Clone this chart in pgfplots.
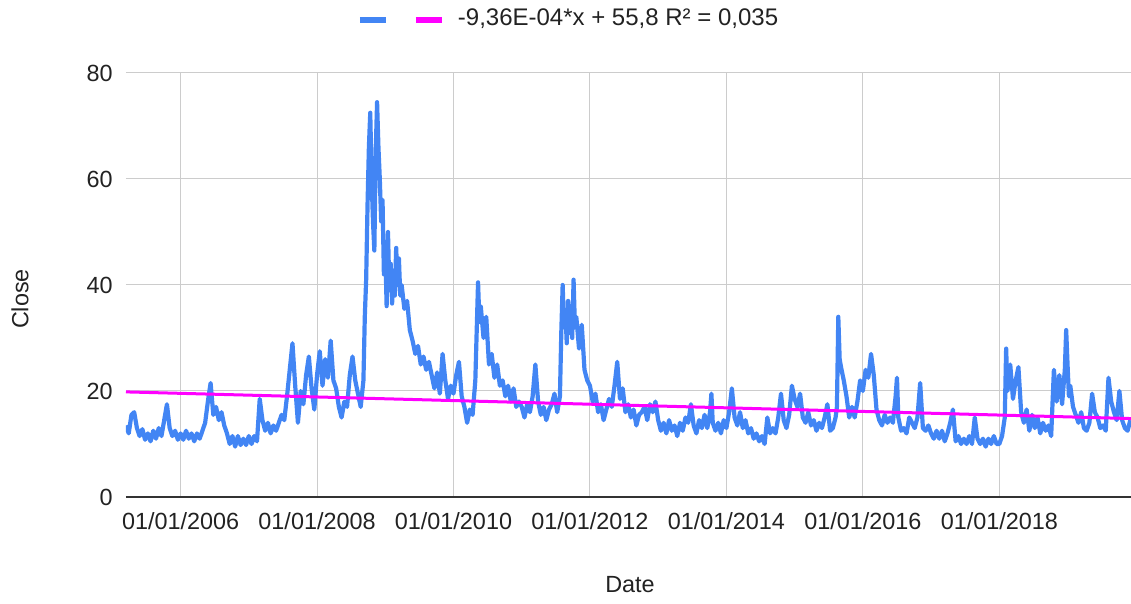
\documentclass[border=0pt]{standalone}
\usepackage{fontspec}
\setmainfont{Liberation Sans}
\usepackage{pgfplots}
\usepackage{pgfplotstable}
\pgfplotsset{compat=1.18}
\definecolor{sheetblue}{HTML}{4285F4}
\definecolor{trendmag}{HTML}{FF00FF}
\definecolor{gridgray}{HTML}{CCCCCC}
\definecolor{axisgray}{HTML}{333333}
\definecolor{textgray}{HTML}{222222}

\pgfplotstableread{
x y
2005.20 13.5
2005.24 12.0
2005.28 15.5
2005.32 16.0
2005.36 13.0
2005.40 11.5
2005.44 12.8
2005.48 10.8
2005.52 12.0
2005.56 10.5
2005.60 12.5
2005.64 11.0
2005.68 13.0
2005.72 11.5
2005.76 14.5
2005.80 17.5
2005.84 13.0
2005.88 11.5
2005.92 12.5
2005.96 10.8
2006.00 12.0
2006.04 10.8
2006.08 12.5
2006.12 11.0
2006.16 12.0
2006.20 10.5
2006.24 12.0
2006.28 11.0
2006.32 12.5
2006.36 14.0
2006.40 18.0
2006.44 21.5
2006.48 15.5
2006.52 17.0
2006.56 14.5
2006.60 16.0
2006.64 13.5
2006.68 12.0
2006.72 10.0
2006.76 11.5
2006.80 9.5
2006.84 11.5
2006.88 9.8
2006.92 11.0
2006.96 9.8
2007.00 11.5
2007.04 10.0
2007.08 11.5
2007.12 10.5
2007.16 18.5
2007.20 14.5
2007.24 12.5
2007.28 14.0
2007.32 12.0
2007.36 13.5
2007.40 12.5
2007.44 14.0
2007.48 15.5
2007.52 14.5
2007.56 19.0
2007.60 24.0
2007.64 29.0
2007.68 21.0
2007.72 14.0
2007.76 20.0
2007.80 17.5
2007.84 23.0
2007.88 26.5
2007.92 20.5
2007.96 16.5
2008.00 23.0
2008.04 27.5
2008.08 21.0
2008.12 26.0
2008.16 22.5
2008.20 29.5
2008.24 22.0
2008.28 20.5
2008.32 17.0
2008.36 15.0
2008.40 18.0
2008.44 17.0
2008.48 23.0
2008.52 26.5
2008.56 22.0
2008.60 19.5
2008.64 17.0
2008.68 22.0
2008.70 34.0
2008.72 41.0
2008.74 55.0
2008.76 66.0
2008.78 72.5
2008.80 60.0
2008.82 52.0
2008.84 46.5
2008.86 65.0
2008.88 74.5
2008.90 66.0
2008.92 60.0
2008.94 52.0
2008.96 56.0
2008.98 42.0
2009.00 47.0
2009.02 36.0
2009.04 50.0
2009.06 39.0
2009.08 44.0
2009.10 36.5
2009.12 42.0
2009.14 38.0
2009.16 47.0
2009.18 40.0
2009.20 45.0
2009.22 38.0
2009.24 40.0
2009.28 35.5
2009.32 37.0
2009.36 31.5
2009.40 29.5
2009.44 27.0
2009.48 28.5
2009.52 25.0
2009.56 26.5
2009.60 24.0
2009.64 25.5
2009.68 23.0
2009.72 20.5
2009.76 23.5
2009.80 19.5
2009.84 27.0
2009.88 22.0
2009.92 18.5
2009.96 21.0
2010.00 19.5
2010.04 23.0
2010.08 25.5
2010.12 19.0
2010.16 17.0
2010.20 14.0
2010.24 16.5
2010.28 15.5
2010.32 22.0
2010.36 40.5
2010.38 33.0
2010.40 36.0
2010.44 30.0
2010.48 34.0
2010.52 25.0
2010.56 27.0
2010.60 22.5
2010.64 25.0
2010.68 21.0
2010.72 22.0
2010.76 19.0
2010.80 21.0
2010.84 18.0
2010.88 20.5
2010.92 17.0
2010.96 18.0
2011.00 17.0
2011.04 15.0
2011.08 17.5
2011.12 16.0
2011.16 19.0
2011.20 25.0
2011.24 18.0
2011.28 15.5
2011.32 17.0
2011.36 14.5
2011.40 16.5
2011.44 17.5
2011.48 19.5
2011.52 16.0
2011.56 19.0
2011.58 31.0
2011.60 40.0
2011.62 32.0
2011.64 35.0
2011.66 29.0
2011.68 37.0
2011.70 31.0
2011.72 36.0
2011.74 30.0
2011.76 41.0
2011.78 32.0
2011.80 34.0
2011.84 28.0
2011.88 32.5
2011.92 24.0
2011.96 22.0
2012.00 21.0
2012.04 18.0
2012.08 19.5
2012.12 16.0
2012.16 17.5
2012.20 14.5
2012.24 16.5
2012.28 18.5
2012.32 17.0
2012.36 21.0
2012.40 25.5
2012.44 18.5
2012.48 20.5
2012.52 16.0
2012.56 17.5
2012.60 15.0
2012.64 16.5
2012.68 13.5
2012.72 15.5
2012.76 16.0
2012.80 17.0
2012.84 14.5
2012.88 17.5
2012.92 16.0
2012.96 18.0
2013.00 14.5
2013.04 12.5
2013.08 14.0
2013.12 12.0
2013.16 14.5
2013.20 12.5
2013.24 13.5
2013.28 11.5
2013.32 14.0
2013.36 12.5
2013.40 15.0
2013.44 14.0
2013.48 17.5
2013.52 13.5
2013.56 12.0
2013.60 14.5
2013.64 13.0
2013.68 15.5
2013.72 13.0
2013.76 16.0
2013.78 19.5
2013.80 14.0
2013.84 12.5
2013.88 14.0
2013.92 12.0
2013.96 14.5
2014.00 13.0
2014.04 16.0
2014.08 20.5
2014.12 15.0
2014.16 13.5
2014.20 16.0
2014.24 13.0
2014.28 14.5
2014.32 12.0
2014.36 13.0
2014.40 11.0
2014.44 12.0
2014.48 10.5
2014.52 11.5
2014.56 10.0
2014.60 15.0
2014.64 12.0
2014.68 13.0
2014.72 12.0
2014.76 15.0
2014.80 19.5
2014.84 14.5
2014.88 13.0
2014.92 15.5
2014.96 21.0
2015.00 18.5
2015.04 17.0
2015.08 19.5
2015.12 15.0
2015.16 14.0
2015.20 16.0
2015.24 13.5
2015.28 14.5
2015.32 12.5
2015.36 14.0
2015.40 13.0
2015.44 15.0
2015.48 17.5
2015.52 12.5
2015.56 13.0
2015.60 15.0
2015.62 17.0
2015.64 34.0
2015.66 26.0
2015.68 24.5
2015.72 22.0
2015.76 19.0
2015.80 15.0
2015.84 17.0
2015.88 15.0
2015.92 18.0
2015.96 22.0
2016.00 20.0
2016.04 24.0
2016.08 22.5
2016.12 27.0
2016.16 23.0
2016.20 16.5
2016.24 14.5
2016.28 13.5
2016.32 15.5
2016.36 14.0
2016.40 15.0
2016.44 14.0
2016.48 19.0
2016.50 22.5
2016.52 15.0
2016.56 12.5
2016.60 13.0
2016.64 12.0
2016.68 15.0
2016.72 14.0
2016.76 13.0
2016.80 15.0
2016.84 21.5
2016.88 13.0
2016.92 12.5
2016.96 13.5
2017.00 12.0
2017.04 11.0
2017.08 12.5
2017.12 11.0
2017.16 12.5
2017.20 10.5
2017.24 12.0
2017.28 14.0
2017.32 16.5
2017.36 10.5
2017.40 11.5
2017.44 10.0
2017.48 11.0
2017.52 10.0
2017.56 11.5
2017.60 10.0
2017.64 15.0
2017.68 11.0
2017.72 10.0
2017.76 11.0
2017.80 9.5
2017.84 11.0
2017.88 10.0
2017.92 11.5
2017.96 10.0
2018.00 10.0
2018.04 11.5
2018.08 15.0
2018.10 28.0
2018.12 20.0
2018.16 25.0
2018.20 18.5
2018.24 22.0
2018.28 24.5
2018.32 16.0
2018.36 14.0
2018.40 16.5
2018.44 12.5
2018.48 15.5
2018.52 13.0
2018.56 15.0
2018.60 12.0
2018.64 14.0
2018.68 12.5
2018.72 13.5
2018.76 11.5
2018.80 24.0
2018.84 18.0
2018.88 23.0
2018.92 17.5
2018.96 24.0
2018.98 31.5
2019.00 25.0
2019.02 19.0
2019.04 21.0
2019.08 17.0
2019.12 15.5
2019.16 14.0
2019.20 16.0
2019.24 13.0
2019.28 12.5
2019.32 14.0
2019.36 19.5
2019.40 16.0
2019.44 15.0
2019.48 13.0
2019.52 13.5
2019.56 12.5
2019.60 22.5
2019.64 18.0
2019.68 16.0
2019.72 14.5
2019.76 20.0
2019.80 14.5
2019.84 13.0
2019.88 12.5
2019.92 14.5
}\closedata

\begin{document}
\begin{tikzpicture}
\useasboundingbox (-63pt,-53.5pt) rectangle (502.5pt,248.5pt);
\begin{axis}[
  at={(0pt,0pt)}, anchor=south west,
  width=502.5pt, height=212pt, scale only axis,
  xmin=2005.2, xmax=2019.93, ymin=0, ymax=80,
  xtick={2006,2008,2010,2012,2014,2016,2018},
  xticklabels={01/01/2006,01/01/2008,01/01/2010,01/01/2012,01/01/2014,01/01/2016,01/01/2018},
  ytick={20,40,60,80},
  extra y ticks={0}, extra y tick labels={0},
  extra y tick style={major grid style={draw=axisgray, line width=0.9pt}},
  grid=major,
  major grid style={draw=gridgray, line width=0.5pt},
  axis line style={draw=none},
  major tick length=0pt,
  tick label style={font=\fontsize{11.7}{14}\selectfont, text=textgray},
  /pgf/number format/assume math mode=true,
  xticklabel style={anchor=center, yshift=-12pt},
  yticklabel style={anchor=east, inner sep=0pt, xshift=-6.5pt},
  xlabel={Date}, ylabel={Close},
  label style={font=\fontsize{11.7}{14}\selectfont, text=textgray},
  xlabel style={at={(axis description cs:0.5015,-0.2075)}, anchor=center},
  ylabel style={at={(axis description cs:-0.1055,0.467)}, anchor=center, rotate=0},
  legend style={draw=none, fill=none, inner sep=0pt, outer sep=0pt,
    at={(axis description cs:0.2302,1.1274)}, anchor=west,
    column sep=6.7pt,
    /tikz/every even column/.style={column sep=4.7pt},
    nodes={inner sep=0pt, font=\fontsize{12}{14}\selectfont, text=textgray}},
  legend columns=2,
  legend image code/.code={\draw[#1, line width=2.6pt, line cap=butt] (0pt,-0.5pt) -- (13pt,-0.5pt);},
]
\addplot[sheetblue, line width=2.1pt, line join=round] table[x=x, y=y] {\closedata};
\addlegendentry{\mbox{}}
\addplot[trendmag, line width=1.5pt] coordinates {(2005.2,19.83) (2019.93,14.80)};
\addlegendentry{-9,36E-04*x + 55,8 R² = 0,035}
\end{axis}
\end{tikzpicture}
\end{document}
